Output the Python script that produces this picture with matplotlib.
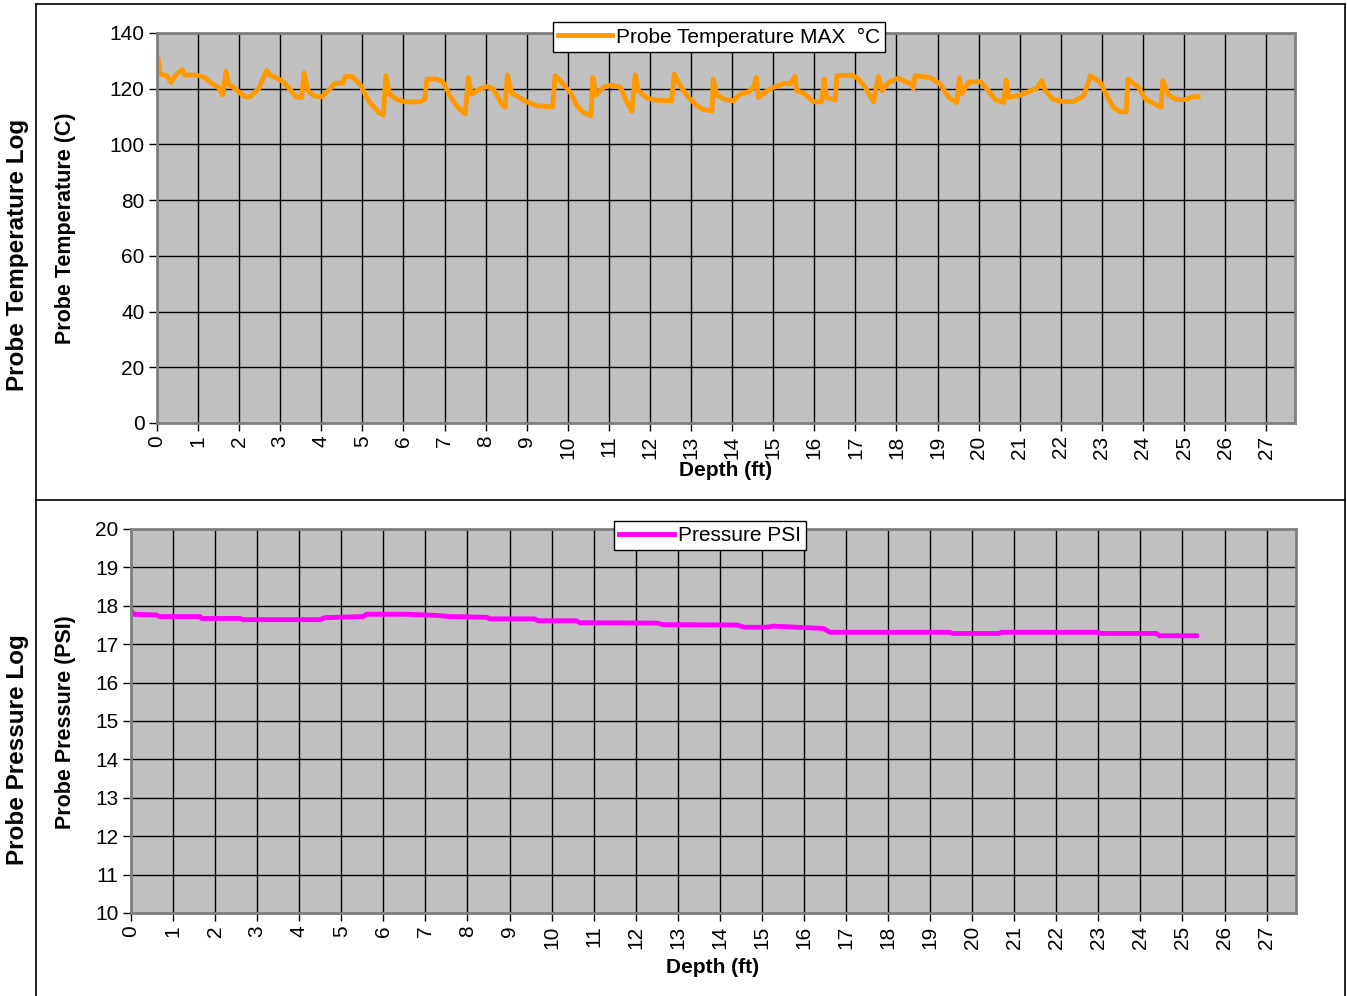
import matplotlib
matplotlib.use('Agg')
import matplotlib.pyplot as plt

plt.rcParams['font.family'] = ['Liberation Sans', 'DejaVu Sans']

# Probe temperature log (depth ft, temperature C)
temp_depth = [0.03, 0.07, 0.24, 0.34, 0.48, 0.62, 0.67, 0.96, 1.17, 1.29, 1.49, 1.60, 1.68, 1.74,
              1.94, 2.14, 2.26, 2.47, 2.67, 2.75, 3.03, 3.16, 3.40, 3.52, 3.58, 3.68, 3.81, 4.01,
              4.13, 4.33, 4.52, 4.58, 4.74, 4.94, 5.15, 5.39, 5.51, 5.57, 5.66, 5.84, 6.04, 6.40,
              6.52, 6.57, 6.81, 6.97, 7.13, 7.29, 7.50, 7.58, 7.66, 7.86, 8.03, 8.19, 8.39, 8.47,
              8.53, 8.63, 9.00, 9.24, 9.63, 9.69, 9.85, 10.06, 10.22, 10.38, 10.56, 10.61, 10.69,
              10.87, 11.03, 11.28, 11.44, 11.56, 11.64, 11.72, 11.92, 12.13, 12.53, 12.59, 12.73,
              12.94, 13.14, 13.30, 13.51, 13.54, 13.63, 13.83, 14.03, 14.20, 14.40, 14.52, 14.59,
              14.64, 14.85, 15.01, 15.29, 15.41, 15.53, 15.57, 15.77, 15.98, 16.18, 16.24, 16.30,
              16.51, 16.55, 16.87, 17.04, 17.24, 17.44, 17.56, 17.65, 17.81, 18.05, 18.26, 18.37,
              18.41, 18.45, 18.82, 19.06, 19.27, 19.47, 19.53, 19.59, 19.75, 20.04, 20.24, 20.40,
              20.61, 20.67, 20.73, 21.01, 21.22, 21.42, 21.54, 21.62, 21.82, 22.07, 22.31, 22.56,
              22.72, 22.96, 23.12, 23.28, 23.45, 23.59, 23.63, 23.89, 24.06, 24.26, 24.44, 24.48,
              24.62, 24.83, 25.03, 25.23, 25.34]
temp_c = [130.7, 125.3, 124.7, 122.3, 125.3, 126.8, 124.9, 124.9, 124.0, 122.3, 120.5, 117.8, 126.2, 121.7,
          119.5, 117.1, 117.1, 119.9, 126.5, 125.0, 122.9, 121.1, 116.9, 116.9, 125.6, 119.3, 117.5, 117.1,
          118.7, 122.0, 122.0, 124.4, 124.4, 121.7, 115.7, 111.5, 110.6, 124.7, 118.1, 116.1, 115.3, 115.3,
          116.3, 123.5, 123.5, 122.3, 117.5, 113.9, 110.9, 124.0, 118.1, 119.9, 120.8, 119.9, 114.5, 113.3,
          125.0, 118.5, 115.3, 113.9, 113.5, 124.7, 122.3, 118.7, 113.9, 111.5, 110.3, 124.0, 117.8,
          120.5, 121.3, 120.5, 115.1, 111.9, 125.0, 119.3, 116.7, 115.9, 115.7, 125.3, 121.1,
          116.9, 113.9, 112.5, 112.1, 123.5, 117.7, 116.1, 115.7, 118.1, 118.9, 120.5, 124.0,
          116.9, 119.3, 120.5, 122.0, 121.7, 124.4, 119.3, 118.1, 115.3, 115.3, 123.5, 116.9,
          115.9, 124.7, 124.9, 124.0, 120.5, 115.3, 124.4, 119.3, 122.3, 123.8, 122.3, 121.7,
          120.1, 124.7, 124.0, 121.7, 116.9, 115.1, 124.0, 118.1, 122.3, 122.6, 119.3, 116.1,
          115.1, 123.1, 116.9, 117.7, 119.0, 120.2, 122.9, 119.3, 116.1, 115.4, 115.4, 117.5,
          124.7, 122.3, 117.5, 113.3, 111.7, 111.7, 123.5, 120.5, 116.3, 114.7, 113.3, 122.9,
          117.7, 116.1, 116.1, 117.2, 117.1]

# Probe pressure log (depth ft, PSI)
pres_depth = [0.02, 0.05, 0.61, 0.69, 1.64, 1.68, 2.59, 2.67, 4.49, 4.61, 5.52, 5.60, 6.55, 7.27,
              7.58, 8.46, 8.53, 9.60, 9.68, 10.59, 10.67, 12.50, 12.65, 14.40, 14.60, 15.11, 15.27,
              16.46, 16.62, 19.47, 19.54, 20.62, 20.70, 22.95, 23.07, 24.38, 24.46, 25.33]
pres_psi = [17.85, 17.78, 17.76, 17.72, 17.72, 17.67, 17.67, 17.64, 17.64, 17.69, 17.72, 17.78, 17.78, 17.75,
            17.72, 17.70, 17.66, 17.66, 17.61, 17.61, 17.56, 17.55, 17.51, 17.50, 17.44, 17.44, 17.47,
            17.41, 17.31, 17.31, 17.28, 17.28, 17.31, 17.31, 17.28, 17.28, 17.22, 17.22]

depth_ticks = list(range(0, 28))

fig = plt.figure(figsize=(13.47, 9.96), dpi=100)

# outer frames (left, top, right, and the divider between the two logs)
W, H = 1347, 996
for xs, ys in [([36, 36], [4, 996]), ([36, 1345], [4, 4]), ([1345, 1345], [4, 996]),
               ([36, 1345], [500, 500])]:
    fig.add_artist(plt.Line2D([x / W for x in xs], [1 - y / H for y in ys],
                              transform=fig.transFigure, color='black', lw=1.2))


def style_axes(ax, ylim, yticks):
    ax.set_facecolor('#C0C0C0')
    ax.set_xlim(0, 27.7)
    ax.set_ylim(*ylim)
    ax.set_xticks(depth_ticks)
    ax.set_xticklabels([str(t) for t in depth_ticks], rotation=90, fontsize=15)
    ax.set_yticks(yticks)
    ax.tick_params(axis='y', labelsize=15, length=6, width=1, color='black', pad=3)
    ax.tick_params(axis='x', length=6, width=1, color='black', pad=3)
    ax.grid(True, color='black', lw=1)
    ax.set_axisbelow(True)
    for s in ax.spines.values():
        s.set_color('#808080')
        s.set_linewidth(2)


ax1 = fig.add_axes([157 / W, 1 - 423 / H, (1295 - 157) / W, (423 - 33) / H])
style_axes(ax1, (0, 140), range(0, 141, 20))
ax1.plot(temp_depth, temp_c, color='#FF9900', lw=3.5, label='Probe Temperature MAX  \u00b0C',
         solid_joinstyle='round')
ax1.legend(loc='center', bbox_to_anchor=(719 / W, 1 - 37 / H), bbox_transform=fig.transFigure,
           fontsize=15, fancybox=False, framealpha=1, edgecolor='black', handlelength=2.6,
           borderpad=0.25, handletextpad=0.2)

ax2 = fig.add_axes([131 / W, 1 - 913 / H, (1296 - 131) / W, (913 - 529) / H])
style_axes(ax2, (10, 20), range(10, 21))
ax2.plot(pres_depth, pres_psi, color='#FF00FF', lw=3.5, label='Pressure PSI')
ax2.legend(loc='center', bbox_to_anchor=(710 / W, 1 - 535.5 / H), bbox_transform=fig.transFigure,
           fontsize=15, fancybox=False, framealpha=1, edgecolor='black', handlelength=2.6,
           borderpad=0.25, handletextpad=0.2)

# axis titles
fig.text(65 / W, 1 - 228 / H, 'Probe Temperature (C)', rotation=90, ha='center', va='center',
         fontsize=15.5, fontweight='bold')
fig.text(18 / W, 1 - 255 / H, 'Probe Temperature Log', rotation=90, ha='center', va='center',
         fontsize=17.5, fontweight='bold')
fig.text(726 / W, 1 - 470 / H, 'Depth (ft)', ha='center', va='center', fontsize=15, fontweight='bold')

fig.text(65 / W, 1 - 722 / H, 'Probe Pressure (PSI)', rotation=90, ha='center', va='center',
         fontsize=15.5, fontweight='bold')
fig.text(18 / W, 1 - 750 / H, 'Probe Pressure Log', rotation=90, ha='center', va='center',
         fontsize=17.5, fontweight='bold')
fig.text(713 / W, 1 - 967 / H, 'Depth (ft)', ha='center', va='center', fontsize=15, fontweight='bold')

fig.savefig('out.png', dpi=100)
